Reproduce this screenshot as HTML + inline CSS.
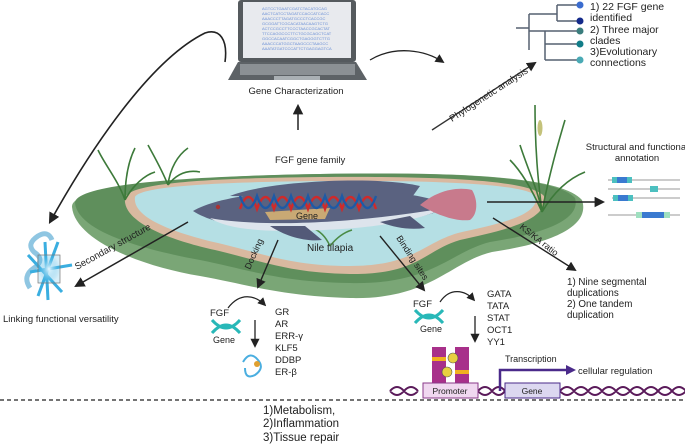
<!DOCTYPE html>
<html><head><meta charset="utf-8"><style>
html,body{margin:0;padding:0;background:#fff}
svg{display:block}
text{font-family:"Liberation Sans",sans-serif;fill:#222}
</style></head><body>
<svg width="685" height="446" viewBox="0 0 685 446" xmlns="http://www.w3.org/2000/svg">
<defs>
<marker id="a" viewBox="0 0 10 10" refX="8" refY="5" markerWidth="7" markerHeight="7" orient="auto"><path d="M0,0L10,5L0,10z" fill="#222"/></marker>
<radialGradient id="pg" cx="0.5" cy="0.5" r="0.5"><stop offset="0" stop-color="#e8f8ff"/><stop offset="1" stop-color="#3aaee0" stop-opacity="0.2"/></radialGradient>
</defs>
<rect x="238" y="0" width="118" height="62" rx="3" fill="#555a5e"/>
<rect x="243" y="2" width="108" height="56" fill="#e8eaee"/>
<g font-size="4">
<text x="262" y="10" style="fill:#6a8fd6">AGTCCTGAATCGATCTACATGCAG</text>
<text x="262" y="15" style="fill:#6a8fd6">AACTCATCCTAGATCCACCATCACC</text>
<text x="262" y="20" style="fill:#6a8fd6">AAACCCTTAGATGCCCTCACCGC</text>
<text x="262" y="25" style="fill:#6a8fd6">GCGGATTCGCACATAACAAGTCTG</text>
<text x="262" y="30" style="fill:#6a8fd6">ACTCCGCCTTCCCTAACCGCACTAT</text>
<text x="262" y="35" style="fill:#6a8fd6">TTCCAGGCCCTTCTGCGCAGCTCAT</text>
<text x="262" y="40" style="fill:#6a8fd6">GGCCACAATCGGCTGAGGGTCTTG</text>
<text x="262" y="45" style="fill:#6a8fd6">AAACCCATGGCTAAGCCCTAAGCC</text>
<text x="262" y="50" style="fill:#6a8fd6">AAATATGATCCCATTCTGAGGAGTCA</text>
</g>
<path d="M238,62 L356,62 L367,80 L228,80 Z" fill="#5d6266"/>
<rect x="240" y="64" width="115" height="11" fill="#8b9094"/>
<rect x="274" y="76" width="46" height="4" fill="#aab0b4"/>
<text x="296" y="94" font-size="9.5" text-anchor="middle">Gene Characterization</text>
<line x1="298" y1="130" x2="298" y2="106" stroke="#222" stroke-width="1.5" marker-end="url(#a)"/>
<path d="M225,62 C228,40 220,28 205,33 C150,60 90,150 50,222" fill="none" stroke="#222" stroke-width="1.6" marker-end="url(#a)"/>
<path d="M370,60 C395,45 425,50 443,62" fill="none" stroke="#222" stroke-width="1.3" marker-end="url(#a)"/>
<line x1="432" y1="130" x2="535" y2="63" stroke="#333" stroke-width="1.4" marker-end="url(#a)"/>
<text font-size="9.5" transform="translate(452,122) rotate(-33)">Phylogenetic analysis</text>
<g stroke="#556070" stroke-width="1.5" fill="none">
<path d="M516,28 H529"/><path d="M529,14 V50"/><path d="M529,14 H557"/><path d="M557,5 V21"/><path d="M557,5 H580 M557,21 H580"/>
<path d="M529,31 H545"/><path d="M545,31 V60 M545,44 H580 M545,60 H580 M545,31 H580"/>
</g>
<circle cx="580" cy="5" r="3.5" fill="#3a6ccf"/><circle cx="580" cy="21" r="3.5" fill="#142a8a"/>
<circle cx="580" cy="31" r="3.5" fill="#3a7d7d"/><circle cx="580" cy="44" r="3.5" fill="#117d88"/><circle cx="580" cy="60" r="3.5" fill="#4aaab5"/>
<g font-size="10.5"><text x="590" y="10">1) 22 FGF gene</text><text x="590" y="21">identified</text><text x="590" y="33">2) Three major</text><text x="590" y="44">clades</text><text x="590" y="55">3)Evolutionary</text><text x="590" y="66">connections</text></g>
<path d="M72,207 C70,185 200,176 320,174 C450,172 560,175 582,200 C592,230 540,245 492,252 C450,262 430,300 350,298 C280,296 250,285 200,276 C140,266 75,240 72,207Z" fill="#7aa676"/>
<path d="M75,203 C75,183 200,176 320,174 C450,172 555,176 575,198 C582,222 535,235 490,242 C450,252 432,285 350,283 C280,282 250,270 200,260 C145,250 78,232 75,203Z" fill="#5f8f5c"/>
<path d="M125,198 C128,182 220,178 320,177 C440,176 530,180 544,196 C550,222 495,232 460,240 C425,250 418,275 350,274 C290,273 265,262 215,250 C170,240 122,222 125,198Z" fill="#d9b9a0"/>
<path d="M135,197 C140,186 220,182 320,181 C440,180 525,184 536,196 C540,217 492,225 458,233 C423,243 413,266 350,266 C293,266 268,255 218,243 C175,233 132,218 135,197Z" fill="#b5dfe4"/>
<g stroke="#3d7a3a" stroke-width="1.6" fill="none">
<path d="M125,200 C118,180 105,165 98,150 M125,200 C125,180 128,162 135,148 M125,200 C133,185 145,175 155,172 M168,185 C162,170 155,158 148,145 M168,185 C170,168 178,155 188,148 M168,185 C178,172 190,170 200,172"/>
<path d="M542,212 C538,180 535,150 535,105 M542,212 C548,180 556,150 565,120 M542,212 C530,185 520,170 510,160 M542,212 C555,190 570,178 585,172 M542,212 C538,190 528,170 520,145"/>
</g>
<path d="M330,246 C325,235 318,230 312,228 M330,246 C338,236 345,232 352,230" stroke="#4a8a45" stroke-width="1.5" fill="none"/>
<ellipse cx="540" cy="128" rx="2.5" ry="8" fill="#c4c27a"/>
<path d="M230,196 C270,180 380,176 420,186 L410,200 Z" fill="#5a6280"/>
<path d="M193,211 C220,195 290,188 360,190 C410,192 440,200 450,206 C420,222 360,228 290,229 C240,229 210,222 193,211Z" fill="#5a6280"/>
<path d="M210,218 C250,226 340,226 445,208 C410,224 360,230 290,231 C245,231 222,226 210,218Z" fill="#dde4ec"/>
<path d="M420,205 C435,192 455,186 472,190 C478,200 478,214 470,220 C455,222 435,214 420,205Z" fill="#c87a8c"/>
<path d="M270,226 C285,236 305,242 322,240 L305,226Z M380,222 C395,228 410,230 425,228 L410,216Z" fill="#535a78"/>
<path d="M265,212 L330,208 L325,219 L270,220Z" fill="#c9a974"/>
<circle cx="218" cy="207" r="2.2" fill="#a33"/>
<path d="M240,209 Q248.5,185 257,209 Q265.5,185 274,209 Q282.5,185 291,209 Q299.5,185 308,209 Q316.5,185 325,209 Q333.5,185 342,209 Q350.5,185 359,209 Q367.5,185 376,209" fill="none" stroke="#d02a2a" stroke-width="2.4"/>
<path d="M240,196 Q248.5,220 257,196 Q265.5,220 274,196 Q282.5,220 291,196 Q299.5,220 308,196 Q316.5,220 325,196 Q333.5,220 342,196 Q350.5,220 359,196 Q367.5,220 376,196" fill="none" stroke="#1e5aa6" stroke-width="2.4"/>
<text x="296" y="219" font-size="9">Gene</text>
<text x="307" y="251" font-size="10">Nile tilapia</text>
<text x="275" y="163" font-size="9.5">FGF gene family</text>
<text x="637" y="150" font-size="9.5" text-anchor="middle">Structural and functional</text>
<text x="637" y="161" font-size="9.5" text-anchor="middle">annotation</text>
<g stroke="#777" stroke-width="0.8"><line x1="608" y1="180" x2="680" y2="180"/><line x1="608" y1="189" x2="680" y2="189"/><line x1="612" y1="198" x2="680" y2="198"/><line x1="608" y1="215" x2="680" y2="215"/></g>
<rect x="612" y="177" width="20" height="6" fill="#4cc0c0"/><rect x="617" y="177" width="10" height="6" fill="#3a7ad0"/>
<rect x="650" y="186" width="8" height="6" fill="#4cc0c0"/>
<rect x="613" y="195" width="20" height="6" fill="#4cc0c0"/><rect x="618" y="195" width="10" height="6" fill="#3a7ad0"/>
<rect x="636" y="212" width="34" height="6" fill="#9fe0c0"/><rect x="642" y="212" width="22" height="6" fill="#3a7ad0"/>
<line x1="487" y1="202" x2="603" y2="202" stroke="#222" stroke-width="1.5" marker-end="url(#a)"/>
<line x1="188" y1="222" x2="76" y2="286" stroke="#222" stroke-width="1.5" marker-end="url(#a)"/>
<text font-size="9.5" transform="translate(77,270) rotate(-29)">Secondary structure</text>
<g fill="none" stroke="#8fc6e2" stroke-width="5">
<path d="M30,288 Q22,276 34,268 Q46,260 34,252 Q26,244 38,236 Q48,230 52,240"/>
</g>
<g stroke="#3aaee0" stroke-width="3">
<line x1="30" y1="272" x2="72" y2="265"/><line x1="45" y1="242" x2="48" y2="300"/><line x1="28" y1="255" x2="62" y2="292"/><line x1="58" y1="242" x2="38" y2="296"/>
</g>
<rect x="38" y="255" width="22" height="28" fill="url(#pg)" stroke="#777" stroke-width="0.7"/>
<text x="3" y="322" font-size="9.5">Linking functional versatility</text>
<line x1="278" y1="240" x2="258" y2="287" stroke="#222" stroke-width="1.4" marker-end="url(#a)"/>
<text font-size="9" transform="translate(250,270) rotate(-66)">Docking</text>
<line x1="380" y1="236" x2="424" y2="290" stroke="#222" stroke-width="1.4" marker-end="url(#a)"/>
<text font-size="9" transform="translate(396,238) rotate(57)">Binding sites</text>
<line x1="493" y1="218" x2="575" y2="270" stroke="#222" stroke-width="1.4" marker-end="url(#a)"/>
<text font-size="9" transform="translate(519,228) rotate(38)">KS/KA ratio</text>
<g font-size="9.8"><text x="567" y="285">1) Nine segmental</text><text x="567" y="296">duplications</text><text x="567" y="307">2) One tandem</text><text x="567" y="318">duplication</text></g>
<text x="210" y="316" font-size="9.5">FGF</text>
<path d="M212,320 Q226,336 240,320 M212,333 Q226,317 240,333" fill="none" stroke="#28b8b8" stroke-width="3"/>
<text x="213" y="343" font-size="9">Gene</text>
<path d="M228,308 C240,292 255,295 265,305" fill="none" stroke="#222" stroke-width="1.2" marker-end="url(#a)"/>
<line x1="255" y1="320" x2="255" y2="346" stroke="#222" stroke-width="1.3" marker-end="url(#a)"/>
<g font-size="9.5"><text x="275" y="315">GR</text><text x="275" y="327">AR</text><text x="275" y="339">ERR-γ</text><text x="275" y="351">KLF5</text><text x="275" y="363">DDBP</text><text x="275" y="375">ER-β</text></g>
<g stroke="#4aaee0" stroke-width="2" fill="none"><path d="M243,362 Q250,350 258,360 Q265,368 255,375 Q245,380 245,368"/></g>
<circle cx="257" cy="364" r="3" fill="#e0a030"/>
<text x="413" y="307" font-size="9.5">FGF</text>
<path d="M415,310 Q429,326 443,310 M415,323 Q429,307 443,323" fill="none" stroke="#28b8b8" stroke-width="3"/>
<text x="420" y="332" font-size="9">Gene</text>
<path d="M440,302 C450,287 465,290 474,300" fill="none" stroke="#222" stroke-width="1.2" marker-end="url(#a)"/>
<line x1="475" y1="316" x2="475" y2="341" stroke="#222" stroke-width="1.3" marker-end="url(#a)"/>
<g font-size="9.5"><text x="487" y="297">GATA</text><text x="487" y="309">TATA</text><text x="487" y="321">STAT</text><text x="487" y="333">OCT1</text><text x="487" y="345">YY1</text></g>
<path d="M390,391 Q397,383 404,391 T418,391 M390,391 Q397,399 404,391 T418,391 M478,391 Q485,383 492,391 T505,391 M478,391 Q485,399 492,391 T505,391 M560,391 Q567,383 574,391 T588,391 T602,391 T616,391 T630,391 T644,391 T658,391 T672,391 T686,391 M560,391 Q567,399 574,391 T588,391 T602,391 T616,391 T630,391 T644,391 T658,391 T672,391 T686,391" fill="none" stroke="#5a1a5a" stroke-width="2"/>
<rect x="432" y="347" width="14" height="37" fill="#a8308a"/><rect x="455" y="347" width="14" height="37" fill="#a8308a"/>
<rect x="432" y="357" width="14" height="4" fill="#f0b020"/><rect x="455" y="370" width="14" height="4" fill="#f0b020"/>
<circle cx="453" cy="358" r="5" fill="#e8d040" stroke="#555" stroke-width="0.6"/><circle cx="447" cy="372" r="5" fill="#e8d040" stroke="#555" stroke-width="0.6"/>
<rect x="423" y="383" width="55" height="15" fill="#f0d8f0" stroke="#8a3a8a" stroke-width="1"/>
<text x="450" y="394" font-size="8.5" text-anchor="middle">Promoter</text>
<rect x="505" y="383" width="55" height="15" fill="#dcd8f0" stroke="#4a2a8a" stroke-width="1"/>
<text x="532" y="394" font-size="8.5" text-anchor="middle">Gene</text>
<path d="M500,391 V370 H568" fill="none" stroke="#4a2a8a" stroke-width="2.5"/>
<path d="M566,365 L576,370 L566,375Z" fill="#4a2a8a"/>
<text x="505" y="362" font-size="9">Transcription</text>
<text x="578" y="374" font-size="9.5">cellular regulation</text>
<line x1="0" y1="400" x2="685" y2="400" stroke="#222" stroke-width="1.2" stroke-dasharray="4,3"/>
<g font-size="11.5"><text x="263" y="414">1)Metabolism,</text><text x="263" y="427">2)Inflammation</text><text x="263" y="441">3)Tissue repair</text></g>
</svg>
</body></html>
